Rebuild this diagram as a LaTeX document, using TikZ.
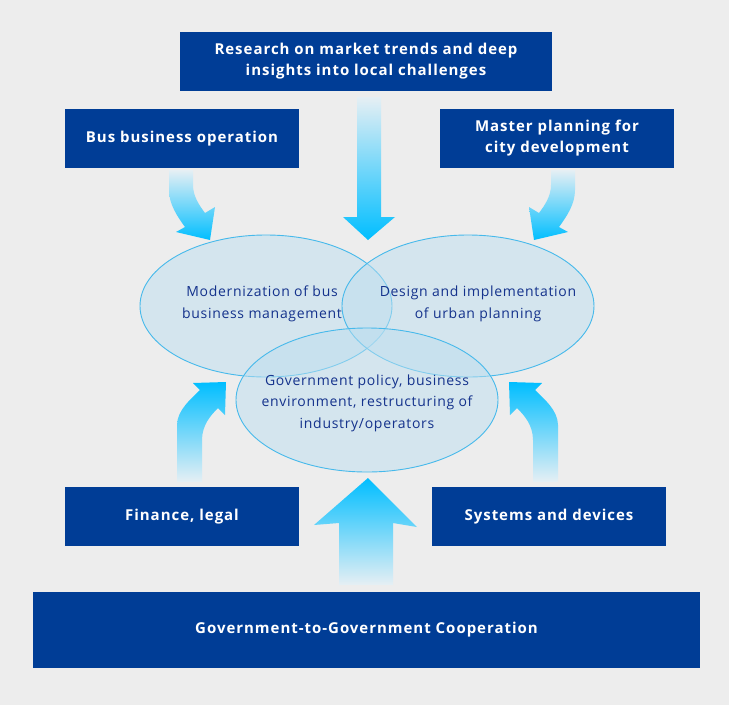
\documentclass[tikz,border=0pt]{standalone}
\usepackage{fontspec}
\setmainfont{Open Sans}
\newfontfamily\boxfont[LetterSpace=6.5]{Open Sans}
\newfontfamily\ringfont[LetterSpace=5]{Open Sans}
\usetikzlibrary{shapes.geometric}
\definecolor{BgGray}{RGB}{237,237,237}
\definecolor{BoxBlue}{RGB}{0,61,150}
\definecolor{RingLine}{RGB}{70,185,235}
\definecolor{RingFill}{RGB}{189,223,239}
\definecolor{TxtBlue}{RGB}{20,50,140}
\definecolor{ArrHi}{RGB}{0,190,255}
\definecolor{ArrLo}{RGB}{230,239,244}
\tikzset{
  blk/.style={fill=BoxBlue,text=white,align=center,inner sep=0pt,
              minimum width=234pt,minimum height=59pt,
              font=\boxfont\bfseries\fontsize{15}{21}\selectfont},
  ring/.style={ellipse,draw=RingLine,line width=0.9pt,fill=RingFill,
               fill opacity=0.5,inner sep=0pt},
  ringtxt/.style={text=TxtBlue,align=center,
                  font=\ringfont\fontsize{14}{21.5}\selectfont},
  flow/.style={top color=ArrLo,bottom color=ArrHi},
  rise/.style={top color=ArrHi,bottom color=ArrLo},
}

\begin{document}
\begin{tikzpicture}[x=1pt,y=-1pt]
  \fill[BgGray] (0,0) rectangle (729,705);
  \useasboundingbox (0,0) rectangle (729,705);

  % source boxes
  \node[blk,minimum width=372pt] (research) at (366,61.5)
       {Research on market trends and deep\\insights into local challenges};
  \node[blk] (busop) at (182,138.5) {Bus business operation};
  \node[blk] (master) at (557,138.5) {Master planning for\\city development};
  \node[blk] (finance) at (182,516.5) {Finance, legal};
  \node[blk] (systems) at (549,516.5) {Systems and devices};
  \node[blk,minimum width=667pt,minimum height=76pt] (g2g) at (366.5,630)
       {Government-to-Government Cooperation};

  % three overlapping areas
  \node[ring,minimum width=252pt,minimum height=142pt] (modern) at (266,306) {};
  \node[ring,minimum width=252pt,minimum height=142pt] (design) at (468,306) {};
  \node[ring,minimum width=262pt,minimum height=144pt] (policy) at (367,400) {};
  \node[ringtxt] (moderntxt) at (262,304) {Modernization of bus\\business management};
  \node[ringtxt] (designtxt) at (478,304) {Design and implementation\\of urban planning};
  \node[ringtxt] (policytxt) at (367,403)
       {Government policy, business\\environment, restructuring of\\industry/operators};

  % block arrows
  \shade[flow] (357,97) -- (381,97) -- (381,217) -- (395,217) -- (368,240)
       -- (343,217) -- (357,217) -- cycle;
  \foreach \mx in {0,1} {
    \begin{scope}[xshift=\mx*744,xscale=1-2*\mx]
      \shade[flow] (169,170) -- (193,170) -- (193,185)
           .. controls (193,196) and (199,205) .. (205,213)
           -- (215,207) -- (210,240) -- (176,232) -- (185,227)
           .. controls (177,216) and (169,204) .. (169,190) -- cycle;
    \end{scope}
    \begin{scope}[xshift=\mx*735,xscale=1-2*\mx]
      \shade[rise] (177,482) -- (177,425)
           .. controls (177,410) and (192,398) .. (200,390)
           -- (193,383) -- (226,382) -- (225,415) -- (218,408)
           .. controls (211,415) and (202,425) .. (202,440)
           -- (202,482) -- cycle;
    \end{scope}
  }
  \shade[rise] (339,585) -- (339,523) -- (314,525) -- (368,478)
       -- (417,527) -- (393,523) -- (393,585) -- cycle;
\end{tikzpicture}
\end{document}
